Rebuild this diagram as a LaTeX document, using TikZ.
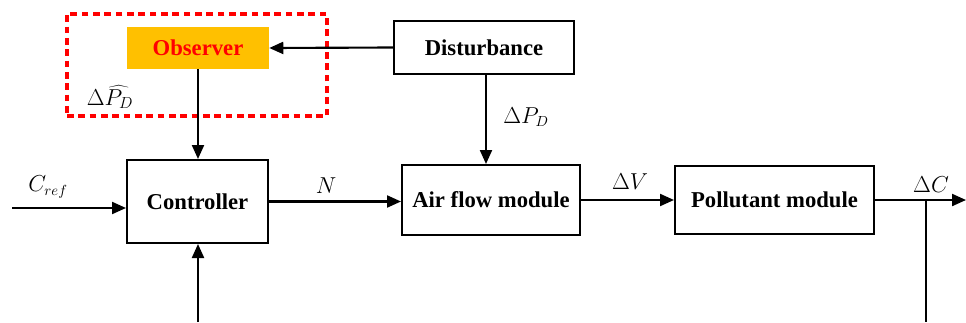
\documentclass[tikz,border=0pt]{standalone}
\usepackage{fontspec}
\setmainfont{Liberation Serif}
\usetikzlibrary{arrows.meta}
\begin{document}
\begin{tikzpicture}[x=0.75pt,y=-0.75pt,
  blk/.style={draw=black,line width=1.5pt,rectangle,inner sep=0pt,font=\fontsize{17}{20}\selectfont\bfseries},
  conn/.style={line width=1.6pt,-{Triangle[length=10.5pt,width=9pt]}},
  plain/.style={line width=1.6pt},
  lbl/.style={font=\fontsize{16}{19}\selectfont,inner sep=0pt}]
\useasboundingbox (0,0) rectangle (966,322);
\node[draw=red,line width=2.3pt,dash pattern=on 5pt off 3.5pt,rectangle,minimum width=195pt,minimum height=76.5pt,inner sep=0pt] (obsgroup) at (197,65) {};
\node[rectangle,fill={rgb,255:red,255;green,192;blue,0},text=red,inner sep=0pt,minimum width=106.5pt,minimum height=31.5pt,font=\fontsize{17}{20}\selectfont\bfseries] (obs) at (198,48) {Observer};
\node[blk,minimum width=135pt,minimum height=39.75pt] (dist) at (484,47.5) {Disturbance};
\node[blk,minimum width=105.75pt,minimum height=62.25pt] (ctrl) at (197.5,201.5) {Controller};
\node[blk,minimum width=133.5pt,minimum height=52.5pt] (air) at (491,200) {Air flow module};
\node[blk,minimum width=149.25pt,minimum height=51pt] (pol) at (774.5,200) {Pollutant module};
\coordinate (cin) at (12,208);
\coordinate (cbot) at (198,322);
\coordinate (cout) at (966,200);
\coordinate (fb) at (926,200);
\coordinate (fbend) at (926,322);
\draw[conn] (dist.west) -- (obs.east);
\draw[conn] (obs.south) -- (obs.south |- ctrl.north);
\draw[conn] (dist.south -| 486,0) -- (486,0 |- air.north);
\draw[conn] (cin) -- (cin -| ctrl.west);
\draw[conn] (cbot) -- (cbot |- ctrl.south);
\draw[conn] (ctrl.east) -- (ctrl.east -| air.west);
\draw[conn] (air.east) -- (air.east -| pol.west);
\draw[conn] (pol.east) -- (cout);
\draw[plain] (fb) -- (fbend);
\node[lbl,font=\fontsize{17}{20}\selectfont] (lph) at (110,97) {$\Delta\widehat{P_D}$};
\node[lbl] (lcref) at (48,187) {$C_{ref}$};
\node[lbl] (ln) at (326,186) {$N$};
\node[lbl] (lpd) at (526,117) {$\Delta P_D$};
\node[lbl] (lv) at (630,182) {$\Delta V$};
\node[lbl] (lc) at (931,185) {$\Delta C$};
\end{tikzpicture}
\end{document}
